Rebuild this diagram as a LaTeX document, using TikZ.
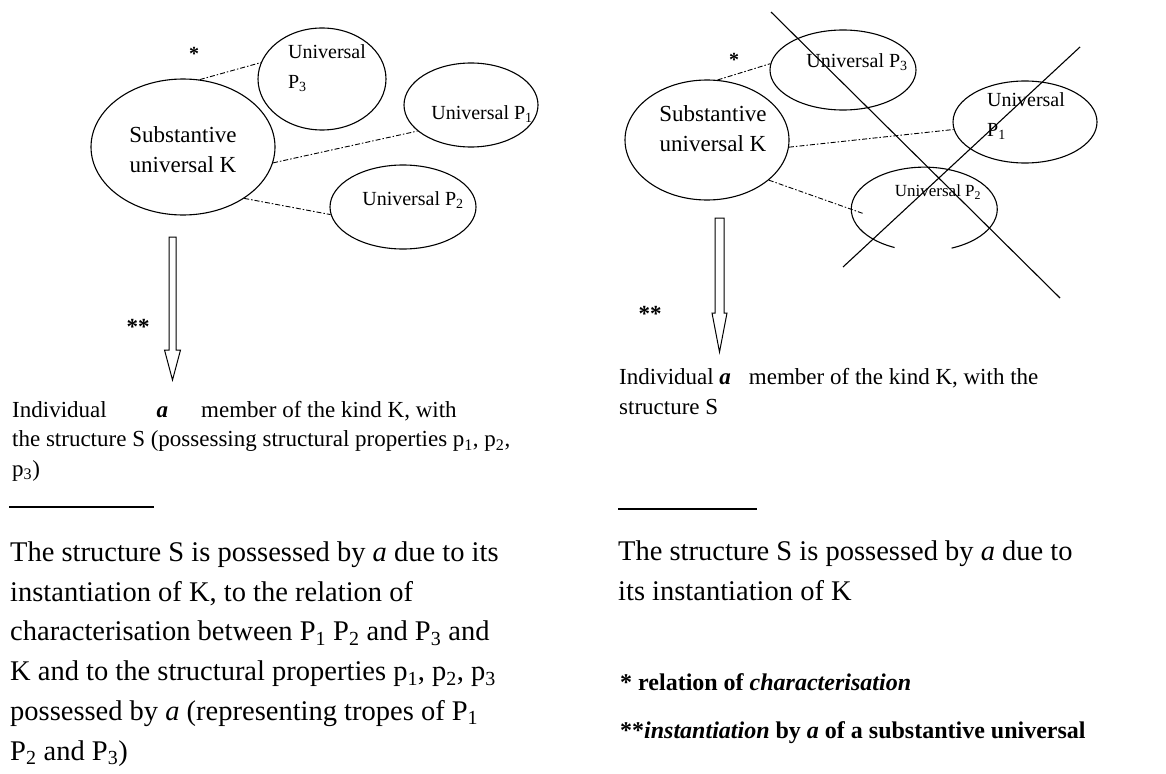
\documentclass[tikz,border=0pt]{standalone}
\usepackage{fontspec}
\setmainfont{Liberation Serif}
\usetikzlibrary{shapes.geometric}

\begin{document}
\begin{tikzpicture}[x=1pt,y=-1pt,
  oval/.style={draw, ellipse, inner sep=0pt, line width=1.1pt},
  rel/.style={line width=0.9pt, dash pattern=on 5pt off 2pt on 1.5pt off 2pt},
  ktext/.style={font=\fontsize{23}{30}\selectfont, align=center, inner sep=0pt},
  utext/.style={font=\fontsize{20}{30}\selectfont, align=left, inner sep=0pt},
  star/.style={font=\fontsize{20}{20}\selectfont\bfseries, inner sep=0pt},
  dstar/.style={font=\fontsize{23}{23}\selectfont\bfseries, inner sep=0pt},
  member/.style={font=\fontsize{23}{29.5}\selectfont, align=left, inner sep=0pt, anchor=base west},
  para/.style={font=\fontsize{28.5}{39.7}\selectfont, align=left, inner sep=0pt, anchor=base west},
  legend/.style={font=\fontsize{24}{48}\selectfont\bfseries, align=left, inner sep=0pt, anchor=base west},
  hollow/.style={draw, fill=white, line width=1pt, line join=miter},
  strike/.style={line width=1.1pt}]
\useasboundingbox (0,0) rectangle (1166,773);

% ---------- left scheme ----------
\node[oval, minimum width=184pt, minimum height=136pt] (kL) at (183,147) {};
\node[oval, minimum width=128pt, minimum height=102pt] (p3L) at (322,79) {};
\node[oval, minimum width=134pt, minimum height=84pt] (p1L) at (471,105) {};
\node[oval, minimum width=146pt, minimum height=84pt] (p2L) at (403,207) {};

\node[ktext] (kLt) at (183,150) {Substantive\\universal K};
\node[utext] (p3Lt) at (327,68) {Universal\\P\textsubscript{3}};
\node[utext] (p1Lt) at (482,114) {Universal P\textsubscript{1}};
\node[utext] (p2Lt) at (413,200) {Universal P\textsubscript{2}};

\draw[rel] (kL.76) -- (p3L.165);
\draw[rel] (kL.-10) -- (p1L.206);
\draw[rel] (kL.-40) -- (p2L.186);

\node[star] (sL) at (194,54) {*};
\node[dstar] (ssL) at (138,327) {**};

\draw[hollow] (169,237) -- (176,237) -- (176,350) -- (180.5,350) -- (172.5,380)
  -- (164.5,350) -- (169,350) -- cycle;

% multi-line nodes: the base anchor sits on the last line
\node[member] (indL) at (12,476) {Individual\hspace{50pt}\textbf{\textit{a}}\hspace{33pt}member of the kind K, with\\the structure S (possessing structural properties p\textsubscript{1}, p\textsubscript{2},\\p\textsubscript{3})};

\draw[line width=1.4pt] (9,507) -- (154,507);

\node[para] (txtL) at (10,760) {The structure S is possessed by \textit{a} due to its\\instantiation of K, to the relation of\\characterisation between P\textsubscript{1} P\textsubscript{2} and P\textsubscript{3} and\\K and to the structural properties p\textsubscript{1}, p\textsubscript{2}, p\textsubscript{3}\\possessed by \textit{a} (representing tropes of P\textsubscript{1}\\P\textsubscript{2} and P\textsubscript{3})};

% ---------- right scheme ----------
\node[oval, minimum width=164pt, minimum height=120pt] (kR) at (707,140) {};
\node[oval, minimum width=146pt, minimum height=80pt] (p3R) at (843,70) {};
\node[oval, minimum width=144pt, minimum height=82pt] (p1R) at (1025,122) {};
\node[ellipse, inner sep=0pt, minimum width=146pt, minimum height=84pt] (p2R) at (935,207) {};
\draw[line width=1.1pt] (p2R.-68) arc[start angle=-68, end angle=246, x radius=73pt, y radius=42pt];

\node[ktext] (kRt) at (713,129) {Substantive\\universal K};
\node[utext] (p3Rt) at (857,62) {Universal P\textsubscript{3}};
\node[utext] (p1Rt) at (1026,116) {Universal\\P\textsubscript{1}};
\node[utext, font=\fontsize{17}{20}\selectfont] (p2Rt) at (938,192) {Universal P\textsubscript{2}};

\draw[rel] (kR.80) -- (p3R.175);
\draw[rel] (kR.-5) -- (p1R.186);
\draw[rel] (kR.-33) -- (p2R.185);

\node[star] (sR) at (734,60) {*};
\node[dstar] (ssR) at (650,314) {**};

\draw[hollow] (715,218) -- (724,218) -- (724,313) -- (727,313) -- (719.5,352)
  -- (712,313) -- (715,313) -- cycle;

% crossing strokes
\draw[strike] (771,12) -- (1060,298);
\draw[strike] (1080,47) -- (843,267);

\node[member] (indR) at (619,414) {Individual \textbf{\textit{a}}\hspace{18pt}member of the kind K, with the\\structure S};

\draw[line width=1.4pt] (618,509) -- (757,509);

\node[para] (txtR) at (618,600) {The structure S is possessed by \textit{a} due to\\its instantiation of K};

\node[legend] (legR) at (620,738) {* relation of \textit{characterisation}\\**\textit{instantiation} by \textit{a} of a substantive universal};
\end{tikzpicture}
\end{document}
